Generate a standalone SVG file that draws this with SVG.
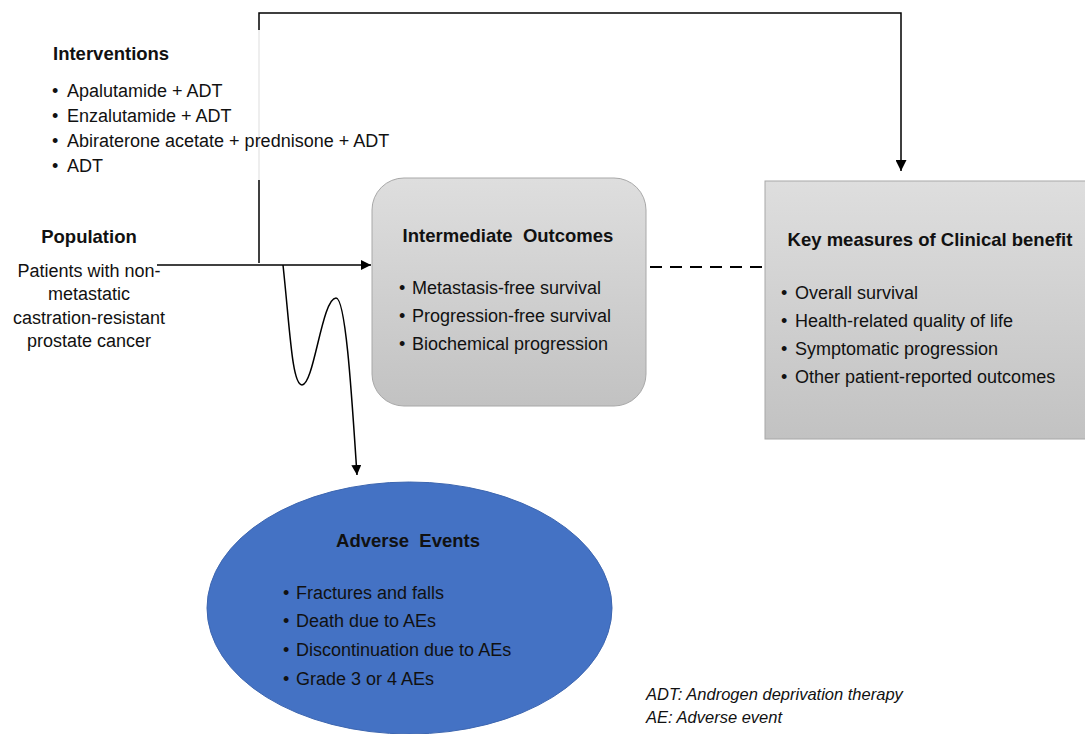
<svg xmlns="http://www.w3.org/2000/svg" width="1085" height="734" viewBox="0 0 1085 734">
<defs>
<linearGradient id="gray" x1="0" y1="0" x2="0" y2="1">
<stop offset="0" stop-color="#dedede"/>
<stop offset="1" stop-color="#c2c2c2"/>
</linearGradient>
<marker id="arr" viewBox="0 0 10 10" refX="10" refY="5" markerWidth="10" markerHeight="10" markerUnits="userSpaceOnUse" orient="auto">
<path d="M0,0 L10,5 L0,10 z" fill="#000"/>
</marker>
<marker id="arrs" viewBox="0 0 10 10" refX="10" refY="5" markerWidth="11" markerHeight="11" markerUnits="userSpaceOnUse" orient="auto">
<path d="M0,0 L10,5 L0,10 z" fill="#000"/>
</marker>
</defs>
<style>
text{font-family:"Liberation Sans",Arial,sans-serif;fill:#111;}
.t{font-size:18.5px;font-weight:bold;}
.b{font-size:18px;}
.f{font-size:16.5px;font-style:italic;}
.c{stroke:#000;stroke-width:1.5;fill:none;}
</style>
<rect width="1085" height="734" fill="#fff"/>

<g id="connectors">
<line class="c" x1="259" y1="263" x2="259" y2="180"/>
<line x1="259" y1="180" x2="259" y2="30" stroke="#ddd" stroke-width="1"/>
<polyline class="c" points="259,30 259,13 901,13 901,171" marker-end="url(#arrs)"/>
<line class="c" x1="157" y1="265" x2="371" y2="265" marker-end="url(#arr)"/>
<path class="c" d="M283,265 C290,330 292,385 302,385 C314,385 322,298 336,298 C346,298 352,400 357,475" marker-end="url(#arr)"/>
<line x1="650" y1="267" x2="762" y2="267" stroke="#000" stroke-width="2" stroke-dasharray="12,8"/>
</g>

<g id="interventions">
<text class="t" x="53" y="60">Interventions</text>
<text class="b" y="97"><tspan x="52">•</tspan><tspan x="67">Apalutamide + ADT</tspan></text>
<text class="b" y="122"><tspan x="52">•</tspan><tspan x="67">Enzalutamide + ADT</tspan></text>
<text class="b" y="147"><tspan x="52">•</tspan><tspan x="67">Abiraterone acetate + prednisone + ADT</tspan></text>
<text class="b" y="172"><tspan x="52">•</tspan><tspan x="67">ADT</tspan></text>
</g>

<g id="population">
<text class="t" x="89" y="243" text-anchor="middle">Population</text>
<text class="b" x="89" y="277" text-anchor="middle">Patients with non-</text>
<text class="b" x="89" y="300" text-anchor="middle">metastatic</text>
<text class="b" x="89" y="324" text-anchor="middle">castration-resistant</text>
<text class="b" x="89" y="347" text-anchor="middle">prostate cancer</text>
</g>

<g id="intermediate">
<rect x="372" y="178" width="274" height="228" rx="32" fill="url(#gray)" stroke="#a8a8a8" stroke-width="1"/>
<text class="t" x="508" y="242" text-anchor="middle" xml:space="preserve">Intermediate  Outcomes</text>
<text class="b" y="294"><tspan x="399">•</tspan><tspan x="412">Metastasis-free survival</tspan></text>
<text class="b" y="322"><tspan x="399">•</tspan><tspan x="412">Progression-free survival</tspan></text>
<text class="b" y="350"><tspan x="399">•</tspan><tspan x="412">Biochemical progression</tspan></text>
</g>

<g id="clinical">
<rect x="765" y="181" width="322" height="258" fill="url(#gray)" stroke="#a8a8a8" stroke-width="1"/>
<text class="t" x="930" y="246" text-anchor="middle">Key measures of Clinical benefit</text>
<text class="b" y="299"><tspan x="781">•</tspan><tspan x="795">Overall survival</tspan></text>
<text class="b" y="327"><tspan x="781">•</tspan><tspan x="795">Health-related quality of life</tspan></text>
<text class="b" y="355"><tspan x="781">•</tspan><tspan x="795">Symptomatic progression</tspan></text>
<text class="b" y="383"><tspan x="781">•</tspan><tspan x="795">Other patient-reported outcomes</tspan></text>
</g>

<g id="adverse">
<ellipse cx="409.5" cy="608" rx="202.5" ry="126" fill="#4472c4" stroke="#3d66b0" stroke-width="1"/>
<text class="t" x="408" y="547" text-anchor="middle" xml:space="preserve">Adverse  Events</text>
<text class="b" y="599"><tspan x="283">•</tspan><tspan x="296">Fractures and falls</tspan></text>
<text class="b" y="627"><tspan x="283">•</tspan><tspan x="296">Death due to AEs</tspan></text>
<text class="b" y="656"><tspan x="283">•</tspan><tspan x="296">Discontinuation due to AEs</tspan></text>
<text class="b" y="685"><tspan x="283">•</tspan><tspan x="296">Grade 3 or 4 AEs</tspan></text>
</g>

<g id="footnote">
<text class="f" x="646" y="700">ADT: Androgen deprivation therapy</text>
<text class="f" x="646" y="723">AE: Adverse event</text>
</g>
</svg>
